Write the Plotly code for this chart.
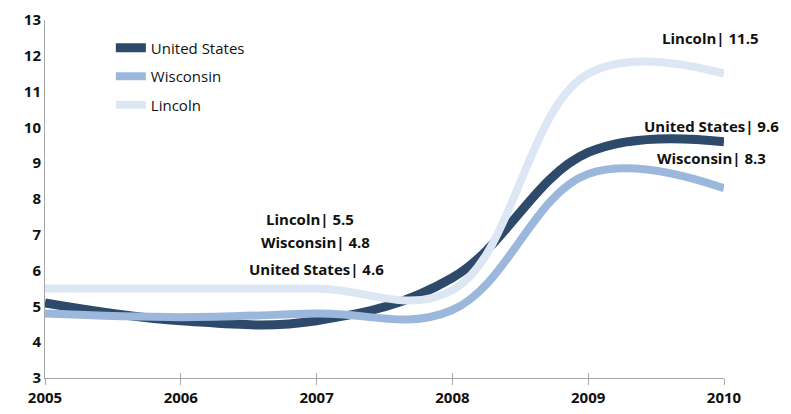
import plotly.graph_objects as go

years = [2005, 2006, 2007, 2008, 2009, 2010]
us = [5.1, 4.6, 4.6, 5.8, 9.3, 9.6]
wi = [4.8, 4.7, 4.8, 4.9, 8.7, 8.3]
lincoln = [5.5, 5.5, 5.5, 5.45, 11.5, 11.5]

series_names = ["United States", "Wisconsin", "Lincoln"]
series_vals = [us, wi, lincoln]
colors = ["#2D4A6B", "#9BB8DC", "#DDE7F3"]
widths = [9, 8, 8]

# label texts and positions (data coords)
label_texts = ["Lincoln| 11.5", "United States| 9.6", "Wisconsin| 8.3",
               "Lincoln| 5.5", "Wisconsin| 4.8", "United States| 4.6"]
label_x = [2009.9, 2009.6, 2009.91, 2006.95, 2006.99, 2007.0]
label_y = [12.5, 10.05, 9.15, 7.43, 6.8, 6.05]

FONT = "Open Sans"
fig = go.Figure()
for i in range(3):
    fig.add_trace(go.Scatter(
        x=years, y=series_vals[i], name=series_names[i], mode="lines",
        line=dict(color=colors[i], width=widths[i], shape="spline", smoothing=1.1),
        legendgroup=series_names[i],
    ))

# invisible trace on second x axis to draw the inner half of the crossing ticks
fig.add_trace(go.Scatter(x=years, y=us, xaxis="x2", mode="lines",
                         line=dict(width=0), showlegend=False, hoverinfo="skip"))

for k, (t, x, y) in enumerate(zip(label_texts, label_x, label_y)):
    if k == 1:
        fig.add_annotation(x=2010, y=y, xref="x", yref="y", text=t, showarrow=False,
                           xanchor="right", xshift=57,
                           font=dict(family=FONT, size=15, color="#111111", weight="bold"))
    else:
        fig.add_annotation(x=x, y=y, xref="x", yref="y", text=t, showarrow=False,
                           font=dict(family=FONT, size=15, color="#111111", weight="bold"))

fig.update_layout(
    width=783, height=406,
    margin=dict(l=37, r=67, t=12, b=36, autoexpand=False),
    paper_bgcolor="white", plot_bgcolor="white",
    showlegend=True,
    legend=dict(x=0.097, y=0.968, xanchor="left", yanchor="top",
                traceorder="grouped", tracegroupgap=6, itemwidth=30,
                font=dict(family=FONT, size=15, color="#111111"),
                bgcolor="rgba(0,0,0,0)"),
    font=dict(family=FONT),
    xaxis2=dict(overlaying="x", anchor="y", side="bottom", range=[2005, 2010],
                tickvals=years, showticklabels=False, ticks="inside", ticklen=5,
                tickcolor="#A6A6A6", showgrid=False, zeroline=False, showline=False,
                automargin=False),
)
fig.layout.xaxis.update(range=[2005, 2010], tickvals=years, ticktext=[str(y) for y in years],
                        showgrid=False, zeroline=False, showline=True, linecolor="#A6A6A6",
                        linewidth=1, ticks="outside", ticklen=6, tickcolor="#A6A6A6",
                        automargin=False,
                        tickfont=dict(family=FONT, size=15, color="#111111", weight="bold"))
fig.update_yaxes(range=[3, 13], tickvals=list(range(3, 14)), showgrid=False,
                 zeroline=False, showline=True, linecolor="#A6A6A6", linewidth=1,
                 ticks="", automargin=False, ticklabeloverflow="allow",
                 tickfont=dict(family=FONT, size=15, color="#111111", weight="bold"))

fig.write_html("out.html")
